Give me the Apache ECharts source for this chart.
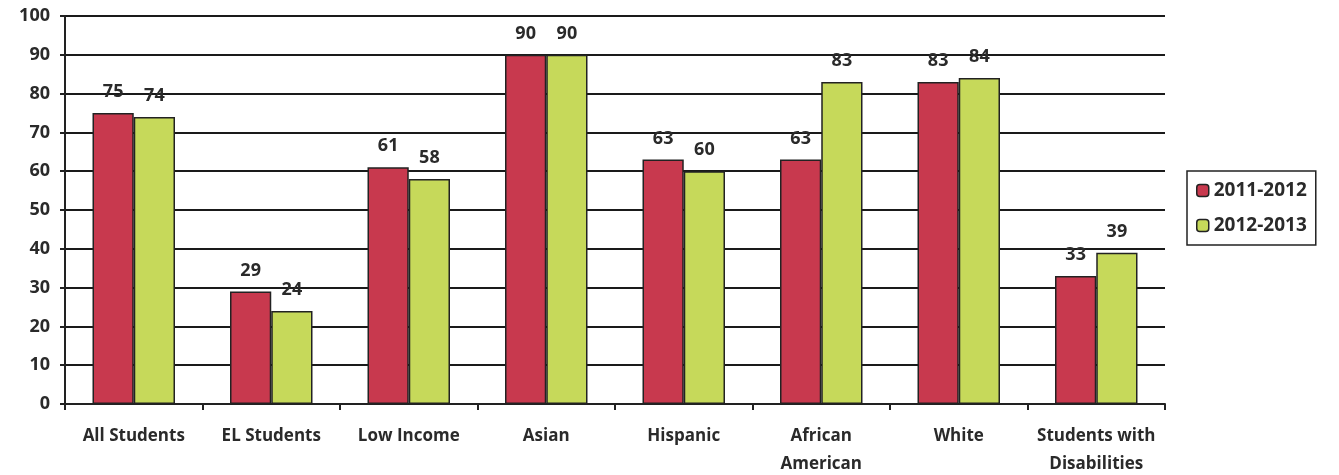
<!DOCTYPE html>
<html>
<head>
<meta charset="utf-8">
<script src="https://cdn.jsdelivr.net/npm/echarts@6/dist/echarts.min.js"></script>
<style>
html, body { margin: 0; padding: 0; background: #fff; }
#ct1 { width: 1339px; height: 475px; }
</style>
</head>
<body>
<div id="ct1"></div>
<script>
var categories = ['All Students', 'EL Students', 'Low Income', 'Asian', 'Hispanic', 'African\nAmerican', 'White', 'Students with\nDisabilities'];
var seriesNames = ['2011-2012', '2012-2013'];
var data2011 = [75, 29, 61, 90, 63, 63, 83, 33];
var data2012 = [74, 24, 58, 90, 60, 83, 84, 39];
var colors = ['#C8394E', '#C6D95A'];

var fontFam = 'Open Sans, Lato, sans-serif';

function barSeries(name, data, color) {
	return {
		name: name,
		type: 'bar',
		data: data,
		barGap: '0%',
		barCategoryGap: '40%',
		itemStyle: { color: color, borderColor: '#222', borderWidth: 1.5 },
		label: {
			show: true,
			position: 'top',
			distance: 12,
			color: '#2a2a2a',
			fontWeight: 'bold',
			fontSize: 18,
			fontFamily: fontFam
		}
	};
}

var option1 = {
	animation: false,
	grid: { left: 65, right: 174, top: 16, bottom: 71, outerBoundsMode: 'none', containLabel: false },
	legend: {
		orient: 'vertical',
		left: 1187,
		top: 171,
		data: seriesNames,
		itemWidth: 12,
		itemHeight: 12,
		itemGap: 16,
		padding: [10, 9, 10, 9],
		borderColor: '#222',
		borderWidth: 1.5,
		textStyle: { fontSize: 19, fontWeight: 'bold', color: '#2a2a2a', fontFamily: fontFam },
		itemStyle: { borderColor: '#222', borderWidth: 1.5 }
	},
	xAxis: [{
		type: 'category',
		data: categories,
		axisLine: { lineStyle: { color: '#222', width: 2 } },
		axisTick: { show: true, length: 6, lineStyle: { color: '#222', width: 2 } },
		axisLabel: {
			interval: 0,
			color: '#2a2a2a', fontWeight: 'bold', fontSize: 17, fontFamily: fontFam,
			margin: 18, lineHeight: 28
		}
	}],
	yAxis: [{
		type: 'value',
		min: 0,
		max: 100,
		interval: 10,
		axisLine: { show: true, lineStyle: { color: '#222', width: 2 } },
		axisTick: { show: true, length: 5, lineStyle: { color: '#222', width: 2 } },
		axisLabel: { color: '#2a2a2a', fontWeight: 'bold', fontSize: 18, fontFamily: fontFam, margin: 15 },
		splitLine: { show: true, lineStyle: { color: '#1a1a1a', width: 2 } }
	}],
	series: [
		barSeries(seriesNames[0], data2011, colors[0]),
		barSeries(seriesNames[1], data2012, colors[1])
	]
};

var myChart1 = echarts.init(document.getElementById('ct1'));
myChart1.setOption(option1, true);
</script>
</body>
</html>
